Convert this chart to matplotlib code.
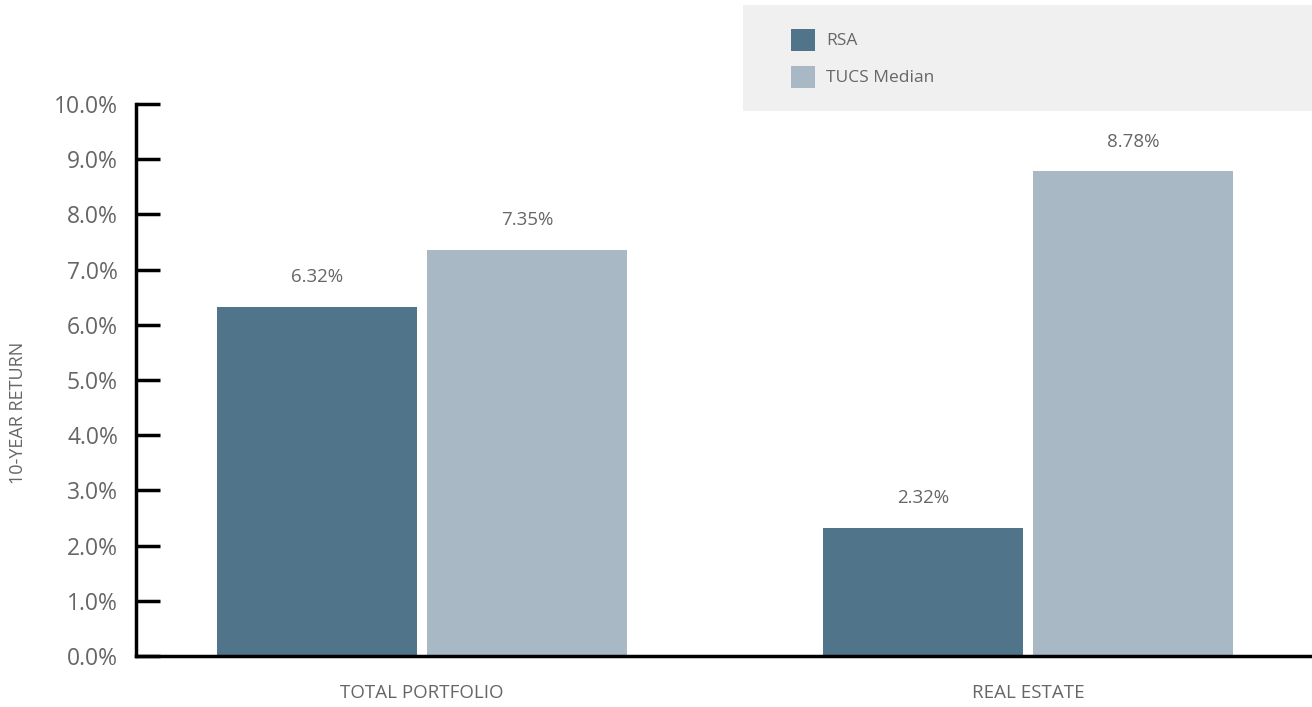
import matplotlib
matplotlib.use("Agg")
import matplotlib.pyplot as plt
from matplotlib.patches import Rectangle
import numpy as np

categories = ["TOTAL PORTFOLIO", "REAL ESTATE"]
series_names = ["RSA", "TUCS Median"]
rsa = [6.32, 2.32]
tucs = [7.35, 8.78]
y_ticks = [0, 1, 2, 3, 4, 5, 6, 7, 8, 9, 10]

colors = ["#507489", "#a8b9c5"]
text_gray = "#666666"

plt.rcParams["font.family"] = ["Open Sans", "DejaVu Sans"]

fig = plt.figure(figsize=(13.12, 7.07), dpi=100)
W, H = 1312, 707
ax_left, ax_right = 136, 1312
ax_top, ax_bottom = 104, 656
ax = fig.add_axes([ax_left / W, 1 - ax_bottom / H,
                   (ax_right - ax_left) / W, (ax_bottom - ax_top) / H])

x = np.arange(len(categories))
bar_w = 200 / 606
offset = 105 / 606
ax.bar(x - offset, rsa, width=bar_w, color=colors[0], zorder=2)
ax.bar(x + offset, tucs, width=bar_w, color=colors[1], zorder=2)

for xi, v in zip(x - offset, rsa):
    ax.text(xi, v + 0.54, f"{v:.2f}%", ha="center", va="center",
            fontsize=13.5, color=text_gray)
for xi, v in zip(x + offset, tucs):
    ax.text(xi, v + 0.54, f"{v:.2f}%", ha="center", va="center",
            fontsize=13.5, color=text_gray)

ax.set_xlim(-(422 - 136) / 606, 1 + (1312 - 1028) / 606)
ax.set_ylim(0, 10)
ax.set_yticks(y_ticks)
ax.set_yticklabels([f"{t:.1f}%" for t in y_ticks], fontsize=16.5, color=text_gray)
ax.tick_params(axis="y", direction="in", length=17, width=2.5, color="black", pad=13)
ax.set_xticks(x)
ax.set_xticklabels(categories, fontsize=13.5, color=text_gray)
ax.tick_params(axis="x", length=0, pad=20)

for s in ["top", "right"]:
    ax.spines[s].set_visible(False)
for s in ["left", "bottom"]:
    ax.spines[s].set_linewidth(2.5)
    ax.spines[s].set_color("black")

fig.text(18 / W, 1 - 413 / H, "10-YEAR RETURN", rotation=90, ha="center",
         va="center", fontsize=13, color=text_gray)

# Legend panel
fig.patches.append(Rectangle((743 / W, 1 - 111 / H), (1312 - 743) / W, 106 / H,
                             transform=fig.transFigure, facecolor="#f0f0f0",
                             edgecolor="none", zorder=0))
legend_rows = [40, 77]
for name, c, yc in zip(series_names, colors, legend_rows):
    fig.patches.append(Rectangle((791 / W, 1 - (yc + 11) / H), 24 / W, 22 / H,
                                 transform=fig.transFigure, facecolor=c,
                                 edgecolor="none", zorder=1))
    fig.text(826 / W, 1 - (yc + 1) / H, name, ha="left", va="center",
             fontsize=12.5, color=text_gray)

fig.savefig("out.png", dpi=100)
